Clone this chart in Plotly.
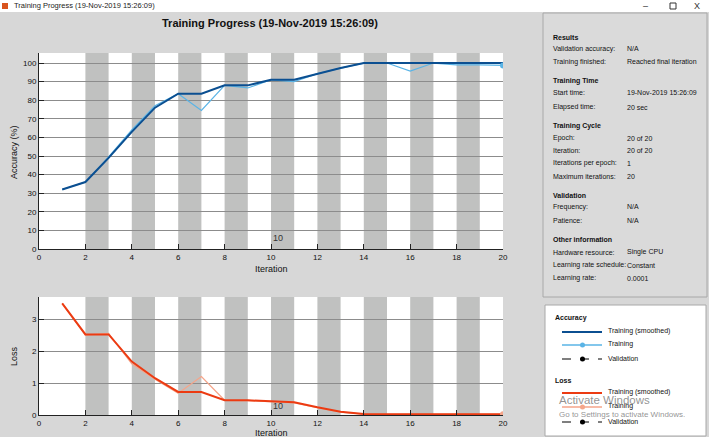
import plotly.graph_objects as go

W, H = 709, 437

iterations = list(range(1, 21))
acc_train = [32, 36, 49.5, 64, 77, 83.5, 74.5, 88, 86.6, 91, 90, 94.3, 97.3, 100, 100, 95.7, 100, 99, 99, 98.7]
acc_smooth = [32, 36, 49, 63, 76, 83.5, 83.5, 88, 88, 91, 91, 94.3, 97.3, 100, 100, 100, 100, 100, 100, 100]
loss_train = [3.49, 2.5, 2.55, 1.6, 1.12, 0.68, 1.2, 0.46, 0.45, 0.41, 0.38, 0.23, 0.09, 0.03, 0.02, 0.02, 0.02, 0.02, 0.02, 0.02]
loss_smooth = [3.49, 2.52, 2.52, 1.67, 1.15, 0.72, 0.72, 0.46, 0.46, 0.42, 0.40, 0.24, 0.10, 0.03, 0.02, 0.02, 0.02, 0.02, 0.02, 0.02]
shaded_epochs = [2, 4, 6, 8, 10, 12, 14, 16, 18]
x_ticks = list(range(0, 21, 2))
acc_ticks = list(range(0, 101, 10))
loss_ticks = [0, 1, 2, 3]

info_rows = [
    ("Results", None),
    ("Validation accuracy:", "N/A"),
    ("Training finished:", "Reached final iteration"),
    ("Training Time", None),
    ("Start time:", "19-Nov-2019 15:26:09"),
    ("Elapsed time:", "20 sec"),
    ("Training Cycle", None),
    ("Epoch:", "20 of 20"),
    ("Iteration:", "20 of 20"),
    ("Iterations per epoch:", "1"),
    ("Maximum iterations:", "20"),
    ("Validation", None),
    ("Frequency:", "N/A"),
    ("Patience:", "N/A"),
    ("Other information", None),
    ("Hardware resource:", "Single CPU"),
    ("Learning rate schedule:", "Constant"),
    ("Learning rate:", "0.0001"),
]
info_y = [37, 49, 62, 81, 93, 107, 126, 138, 150, 163, 176, 195, 207, 220, 239, 252, 265, 278]

FONT = "Liberation Sans Narrow, Liberation Sans, Arial, sans-serif"
FONT_R = "Liberation Sans, Arial, sans-serif"
BG = "#d7d7d7"
BAND = "#c0c1c0"
C_ACC_S = "#0b4f91"
C_ACC = "#5ab4e6"
C_LOSS_S = "#ec3b12"
C_LOSS = "#f5a58a"

def px(xp):
    return xp / W

def py(yp):
    return 1 - yp / H

fig = go.Figure()

fig.add_trace(go.Scatter(x=iterations, y=acc_train, mode="lines", line=dict(color=C_ACC, width=1.2),
                         xaxis="x", yaxis="y", showlegend=False))
fig.add_trace(go.Scatter(x=iterations, y=acc_smooth, mode="lines", line=dict(color=C_ACC_S, width=2),
                         xaxis="x", yaxis="y", showlegend=False))
fig.add_trace(go.Scatter(x=[iterations[-1]], y=[acc_train[-1]], mode="markers",
                         marker=dict(color=C_ACC, size=6), xaxis="x", yaxis="y", showlegend=False))
fig.add_trace(go.Scatter(x=iterations, y=loss_train, mode="lines", line=dict(color=C_LOSS, width=1.2),
                         xaxis="x2", yaxis="y2", showlegend=False))
fig.add_trace(go.Scatter(x=iterations, y=loss_smooth, mode="lines", line=dict(color=C_LOSS_S, width=2),
                         xaxis="x2", yaxis="y2", showlegend=False))
fig.add_trace(go.Scatter(x=[iterations[-1]], y=[loss_train[-1]], mode="markers",
                         marker=dict(color=C_LOSS, size=6), xaxis="x2", yaxis="y2", showlegend=False))

shapes = []
for e in shaded_epochs:
    for xr, yr in (("x", "y domain"), ("x2", "y2 domain")):
        shapes.append(dict(type="rect", xref=xr, yref=yr, x0=e, x1=e + 1, y0=0, y1=1,
                           fillcolor=BAND, line=dict(width=0), layer="below"))

shapes.append(dict(type="rect", xref="paper", yref="paper", x0=0, x1=1, y0=py(12), y1=1,
                   fillcolor="white", line=dict(width=0), layer="below"))
shapes.append(dict(type="rect", xref="paper", yref="paper", x0=px(2), x1=px(8), y0=py(9), y1=py(3),
                   fillcolor="#d9541e", line=dict(width=0)))
shapes.append(dict(type="rect", xref="paper", yref="paper", x0=px(670), x1=px(676), y0=py(9), y1=py(3),
                   fillcolor="white", line=dict(color="#333", width=1)))
shapes.append(dict(type="rect", xref="paper", yref="paper", x0=px(543), x1=px(707), y0=py(297), y1=py(13),
                   fillcolor="#dadada", line=dict(color="#a8a8a8", width=1), layer="below"))
shapes.append(dict(type="rect", xref="paper", yref="paper", x0=px(545), x1=px(706), y0=py(436), y1=py(305),
                   fillcolor="white", line=dict(color="#a8a8a8", width=1), layer="below"))

leg = [
    (332, C_ACC_S, "solid", False, 2),
    (345, C_ACC, "solid", True, 1.5),
    (359, "black", "dash", True, 1.2),
    (393, C_LOSS_S, "solid", False, 2),
    (407, C_LOSS, "solid", True, 1.5),
    (422, "black", "dash", True, 1.2),
]
for yv, col, dash, dot, wd in leg:
    shapes.append(dict(type="line", xref="paper", yref="paper", x0=px(562), x1=px(602), y0=py(yv), y1=py(yv),
                       line=dict(color=col, dash=dash, width=wd)))
    if dot:
        shapes.append(dict(type="circle", xref="paper", yref="paper", x0=px(580), x1=px(585),
                           y0=py(yv + 2.5), y1=py(yv - 2.5), fillcolor=col, line=dict(color=col, width=0)))

ann = []
ann.append(dict(text="Training Progress (19-Nov-2019 15:26:09)", x=px(12), y=py(6), xref="paper", yref="paper",
                xanchor="left", yanchor="middle", showarrow=False, font=dict(size=7.5, color="#222", family=FONT)))
for sx, sym in ((645, "–"), (697, "X")):
    ann.append(dict(text=sym, x=px(sx), y=py(6), xref="paper", yref="paper", xanchor="center", yanchor="middle",
                    showarrow=False, font=dict(size=9, color="#333", family=FONT_R)))
ann.append(dict(text="<b>Training Progress (19-Nov-2019 15:26:09)</b>", x=px(270), y=py(23), xref="paper",
                yref="paper", xanchor="center", yanchor="middle", showarrow=False,
                font=dict(size=11, color="#111", family=FONT_R)))
ann.append(dict(text="Iteration", x=px(271), y=py(269), xref="paper", yref="paper", xanchor="center",
                yanchor="middle", showarrow=False, font=dict(size=9, color="#111", family=FONT)))
ann.append(dict(text="Iteration", x=px(271), y=py(433), xref="paper", yref="paper", xanchor="center",
                yanchor="middle", showarrow=False, font=dict(size=9, color="#111", family=FONT)))
ann.append(dict(text="Accuracy (%)", x=px(14), y=py(152), xref="paper", yref="paper", xanchor="center",
                yanchor="middle", textangle=-90, showarrow=False, font=dict(size=9, color="#111", family=FONT)))
ann.append(dict(text="Loss", x=px(14), y=py(356), xref="paper", yref="paper", xanchor="center",
                yanchor="middle", textangle=-90, showarrow=False, font=dict(size=9, color="#111", family=FONT)))
ann.append(dict(text="10", x=10, y=0, xref="x", yref="y", xanchor="left", yanchor="bottom", xshift=0, yshift=4,
                showarrow=False, font=dict(size=9, color="#333", family=FONT_R)))
ann.append(dict(text="10", x=10, y=0, xref="x2", yref="y2", xanchor="left", yanchor="bottom", xshift=0, yshift=2,
                showarrow=False, font=dict(size=9, color="#333", family=FONT_R)))

for (label, val), yv in zip(info_rows, info_y):
    if val is None:
        ann.append(dict(text="<b>" + label + "</b>", x=px(551), y=py(yv), xref="paper", yref="paper",
                        xanchor="left", yanchor="middle", showarrow=False,
                        font=dict(size=7, color="#111", family=FONT)))
    else:
        ann.append(dict(text=label, x=px(551), y=py(yv), xref="paper", yref="paper", xanchor="left",
                        yanchor="middle", showarrow=False, font=dict(size=7, color="#111", family=FONT)))
        ann.append(dict(text=val, x=px(625), y=py(yv), xref="paper", yref="paper", xanchor="left",
                        yanchor="middle", showarrow=False, font=dict(size=7, color="#111", family=FONT)))

ann.append(dict(text="<b>Accuracy</b>", x=px(553), y=py(318), xref="paper", yref="paper", xanchor="left",
                yanchor="middle", showarrow=False, font=dict(size=7, color="#111", family=FONT)))
ann.append(dict(text="<b>Loss</b>", x=px(553), y=py(380), xref="paper", yref="paper", xanchor="left",
                yanchor="middle", showarrow=False, font=dict(size=7, color="#111", family=FONT)))
for yv, lab in ((332, "Training (smoothed)"), (345, "Training"), (359, "Validation"),
                (393, "Training (smoothed)"), (407, "Training"), (422, "Validation")):
    ann.append(dict(text=lab, x=px(606), y=py(yv - 1), xref="paper", yref="paper", xanchor="left",
                    yanchor="middle", showarrow=False, font=dict(size=7, color="#111", family=FONT)))
ann.append(dict(text="Activate Windows", x=px(557), y=py(400), xref="paper", yref="paper", xanchor="left",
                yanchor="middle", showarrow=False, font=dict(size=11.5, color="rgba(110,110,110,0.75)", family=FONT_R)))
ann.append(dict(text="Go to Settings to activate Windows.", x=px(557), y=py(414), xref="paper", yref="paper",
                xanchor="left", yanchor="middle", showarrow=False,
                font=dict(size=8, color="rgba(110,110,110,0.75)", family=FONT_R)))

axis_common = dict(showline=True, linecolor="#222", linewidth=1, ticks="inside", ticklen=5, tickcolor="#222",
                   tickfont=dict(size=8, color="#111", family=FONT_R), zeroline=False, mirror=False,
                   automargin=False)

fig.update_layout(
    width=W, height=H, margin=dict(l=0, r=0, t=0, b=0, autoexpand=False),
    paper_bgcolor=BG, plot_bgcolor="white", showlegend=False,
    shapes=shapes, annotations=ann,
    xaxis=dict(domain=[px(39), px(503)], range=[0, 20], tickvals=x_ticks, showgrid=False,
               anchor="y", **axis_common),
    yaxis=dict(domain=[py(249), py(53)], range=[0, 105.4], tickvals=acc_ticks, showgrid=True,
               gridcolor="#8c8c8c", gridwidth=1, anchor="x", **axis_common),
    xaxis2=dict(domain=[px(39), px(503)], range=[0, 20], tickvals=x_ticks, showgrid=False,
                anchor="y2", **axis_common),
    yaxis2=dict(domain=[py(415), py(297)], range=[0, 3.69], tickvals=loss_ticks, showgrid=True,
                gridcolor="#8c8c8c", gridwidth=1, anchor="x2", **axis_common),
)

fig.write_html("out.html", config={"displayModeBar": False},
               post_script="document.body.style.margin='0';document.body.style.overflow='hidden';")
